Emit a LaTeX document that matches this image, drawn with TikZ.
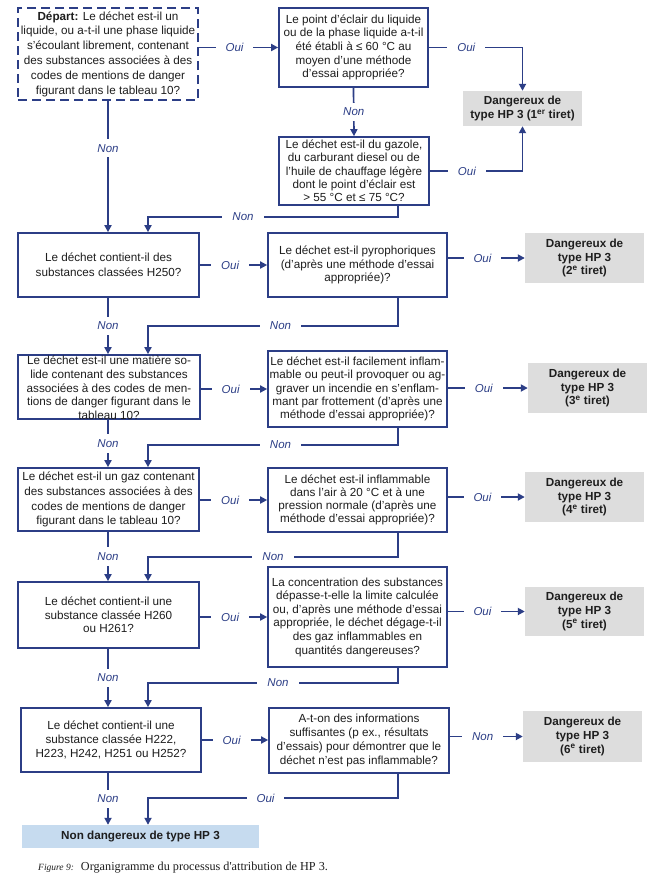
\documentclass[tikz,border=0pt]{standalone}
\usepackage{fontspec}
\setmainfont{Liberation Sans}
\newfontfamily\capfont{Liberation Serif}
\usetikzlibrary{arrows.meta}
\definecolor{navy}{RGB}{44,62,134}
\definecolor{dgrey}{RGB}{221,221,221}
\definecolor{lblue}{RGB}{198,219,239}
\definecolor{tgrey}{RGB}{30,30,30}
\newcommand\bxf{\fontsize{11.7}{13.7}\selectfont}
\newcommand\bxfw{\fontsize{11.7}{14.8}\selectfont}
\newcommand\lbf{\fontsize{11.5}{13}\selectfont\itshape}
\tikzset{
  qbox/.style={draw=navy, line width=1.7pt, align=center, inner sep=1pt, font=\bxf, text=tgrey},
  dbox/.style={fill=dgrey, align=center, inner sep=1pt, font=\bxf\bfseries, text=tgrey},
  fbox/.style={fill=lblue, align=center, inner sep=1pt, font=\bxf\bfseries, text=tgrey},
  conn/.style={draw=navy, line width=1.7pt, -{Triangle[length=7pt,width=7pt]}},
  lbl/.style={fill=white, text=navy, font=\lbf, inner xsep=10pt, inner ysep=5pt},
}
\begin{document}
\begin{tikzpicture}[x=1pt,y=-1pt]
\useasboundingbox[fill=white] (0,0) rectangle (670,876);
% columns and junctions
\coordinate (colA) at (108,0);
\coordinate (colB) at (148,0);
\coordinate (colC) at (398,0);
\coordinate (j1) at (0,217);
\coordinate (j2) at (0,326);
\coordinate (j3) at (0,445);
\coordinate (j4) at (0,557);
\coordinate (j5) at (0,683);
\coordinate (j6) at (0,798);
% top section
\node[qbox, font=\bxfw, dash pattern=on 9pt off 5pt, minimum width=180, minimum height=92] (start) at (108,54)
 {\textbf{Départ:} Le déchet est-il un\\ liquide, ou a-t-il une phase liquide\\ s'écoulant librement, contenant\\ des substances associées à des\\ codes de mentions de danger\\ figurant dans le tableau 10?};
\node[qbox, minimum width=149, minimum height=79] (b2) at (353.5,47.5)
 {Le point d'éclair du liquide\\ ou de la phase liquide a-t-il\\ été établi à ≤ 60 °C au\\ moyen d'une méthode\\ d'essai appropriée?};
\node[qbox, font=\fontsize{11.7}{13.3}\selectfont, minimum width=150, minimum height=68] (b3) at (354,171)
 {Le déchet est-il du gazole,\\ du carburant diesel ou de\\ l'huile de chauffage légère\\ dont le point d'éclair est\\ > 55 °C et ≤ 75 °C?};
\node[dbox, font=\bxfw\bfseries, minimum width=119, minimum height=35] (d1) at (522.5,108.5)
 {Dangereux de\\ type HP 3 (1\textsuperscript{er} tiret)};
% row 1
\node[qbox, font=\bxfw, minimum width=181, minimum height=64] (q1) at (108.5,265)
 {Le déchet contient-il des\\ substances classées H250?};
\node[qbox, minimum width=179, minimum height=64] (p1) at (357.5,265)
 {Le déchet est-il pyrophoriques\\ (d’après une méthode d’essai\\ appropriée)?};
\node[dbox, minimum width=119, minimum height=50] (d2) at (584.5,258)
 {Dangereux de\\ type HP 3\\ (2\textsuperscript{e} tiret)};
% row 2
\node[qbox, minimum width=182, minimum height=64] (q2) at (109,387) {};
\node[align=center, font=\bxf, text=tgrey, inner sep=0pt] (q2t) at (109,388)
 {Le déchet est-il une matière so-\\ lide contenant des substances\\ associées à des codes de men-\\ tions de danger figurant dans le\\ tableau 10?};
\node[qbox, font=\fontsize{11.7}{13.2}\selectfont, minimum width=179, minimum height=76] (p2) at (357.5,389)
 {Le déchet est-il facilement inflam-\\ mable ou peut-il provoquer ou ag-\\ graver un incendie en s'enflam-\\ mant par frottement (d'après une\\ méthode d'essai appropriée)?};
\node[dbox, minimum width=119, minimum height=50] (d3) at (587.5,388)
 {Dangereux de\\ type HP 3\\ (3\textsuperscript{e} tiret)};
% row 3
\node[qbox, font=\bxfw, minimum width=181, minimum height=63] (q3) at (108.5,499.5)
 {Le déchet est-il un gaz contenant\\ des substances associées à des\\ codes de mentions de danger\\ figurant dans le tableau 10?};
\node[qbox, font=\fontsize{11.7}{12.9}\selectfont, minimum width=179, minimum height=64] (p3) at (357.5,500)
 {Le déchet est-il inflammable\\ dans l'air à 20 °C et à une\\ pression normale (d'après une\\ méthode d'essai appropriée)?};
\node[dbox, minimum width=119, minimum height=50] (d4) at (584.5,497)
 {Dangereux de\\ type HP 3\\ (4\textsuperscript{e} tiret)};
% row 4
\node[qbox, font=\fontsize{11.7}{13.3}\selectfont, minimum width=181, minimum height=66] (q4) at (108.5,615)
 {Le déchet contient-il une\\ substance classée H260\\ ou H261?};
\node[qbox, font=\fontsize{11.7}{13.6}\selectfont, minimum width=179, minimum height=100] (p4) at (357.5,617)
 {La concentration des substances\\ dépasse-t-elle la limite calculée\\ ou, d'après une méthode d'essai\\ appropriée, le déchet dégage-t-il\\ des gaz inflammables en\\ quantités dangereuses?};
\node[dbox, minimum width=119, minimum height=49] (d5) at (584.5,611.5)
 {Dangereux de\\ type HP 3\\ (5\textsuperscript{e} tiret)};
% row 5
\node[qbox, minimum width=180, minimum height=64] (q5) at (111,740)
 {Le déchet contient-il une\\ substance classée H222,\\ H223, H242, H251 ou H252?};
\node[qbox, minimum width=180, minimum height=65] (p5) at (359,740.5)
 {A-t-on des informations\\ suffisantes (p ex., résultats\\ d'essais) pour démontrer que le\\ déchet n'est pas inflammable?};
\node[dbox, minimum width=119, minimum height=51] (d6) at (582.5,736.5)
 {Dangereux de\\ type HP 3\\ (6\textsuperscript{e} tiret)};
% final
\node[fbox, minimum width=237, minimum height=23] (fin) at (140.5,836.5)
 {Non dangereux de type HP 3};
% caption
\node[anchor=base west, inner sep=0pt, font=\capfont, text=tgrey] (cap) at (38,870)
 {{\fontsize{9.5}{11}\selectfont\itshape Figure 9:}\hspace{7pt}{\fontsize{12.2}{14}\selectfont Organigramme du processus d'attribution de HP 3.}};
% connectors top
\draw[conn] (start.east |- b2.west) -- node[lbl, pos=0.45]{Oui} (b2.west);
\draw[conn] (b2.east) -| node[lbl, pos=0.2]{Oui} (d1.north);
\draw[conn] (b3.east) -| node[lbl, pos=0.2]{Oui} (d1.south);
\draw[conn] (b2.south) -- node[lbl]{Non} (b3.north);
\draw[conn] (start.south -| colA) -- node[lbl, pos=0.36]{Non} (q1.north -| colA);
\draw[conn] (b3.south -| colC) -- (j1 -| colC) -- node[lbl, pos=0.62]{Non} (j1 -| colB) -- (q1.north -| colB);
% row 1
\draw[conn] (q1.east) -- node[lbl, pos=0.45]{Oui} (q1.east -| p1.west);
\draw[conn] (p1.east |- d2.west) -- node[lbl, pos=0.45]{Oui} (d2.west);
\draw[conn] (q1.south -| colA) -- node[lbl]{Non} (q2.north -| colA);
\draw[conn] (p1.south -| colC) -- (j2 -| colC) -- node[lbl, pos=0.47]{Non} (j2 -| colB) -- (q2.north -| colB);
% row 2
\draw[conn] (q2.east |- p2.west) -- node[lbl, pos=0.45]{Oui} (p2.west);
\draw[conn] (p2.east |- d3.west) -- node[lbl, pos=0.45]{Oui} (d3.west);
\draw[conn] (q2.south -| colA) -- node[lbl]{Non} (q3.north -| colA);
\draw[conn] (p2.south -| colC) -- (j3 -| colC) -- node[lbl, pos=0.47]{Non} (j3 -| colB) -- (q3.north -| colB);
% row 3
\draw[conn] (q3.east |- p3.west) -- node[lbl, pos=0.45]{Oui} (p3.west);
\draw[conn] (p3.east |- d4.west) -- node[lbl, pos=0.45]{Oui} (d4.west);
\draw[conn] (q3.south -| colA) -- node[lbl]{Non} (q4.north -| colA);
\draw[conn] (p3.south -| colC) -- (j4 -| colC) -- node[lbl, pos=0.5]{Non} (j4 -| colB) -- (q4.north -| colB);
% row 4
\draw[conn] (p4.west -| q4.east) -- node[lbl, pos=0.45]{Oui} (p4.west);
\draw[conn] (p4.east |- d5.west) -- node[lbl, pos=0.45]{Oui} (d5.west);
\draw[conn] (q4.south -| colA) -- node[lbl]{Non} (q5.north -| colA);
\draw[conn] (p4.south -| colC) -- (j5 -| colC) -- node[lbl, pos=0.48]{Non} (j5 -| colB) -- (q5.north -| colB);
% row 5
\draw[conn] (q5.east) -- node[lbl, pos=0.45]{Oui} (q5.east -| p5.west);
\draw[conn] (p5.east |- d6.west) -- node[lbl, pos=0.45]{Non} (d6.west);
\draw[conn] (q5.south -| colA) -- node[lbl]{Non} (fin.north -| colA);
\draw[conn] (p5.south -| colC) -- (j6 -| colC) -- node[lbl, pos=0.53]{Oui} (j6 -| colB) -- (fin.north -| colB);
\end{tikzpicture}
\end{document}
